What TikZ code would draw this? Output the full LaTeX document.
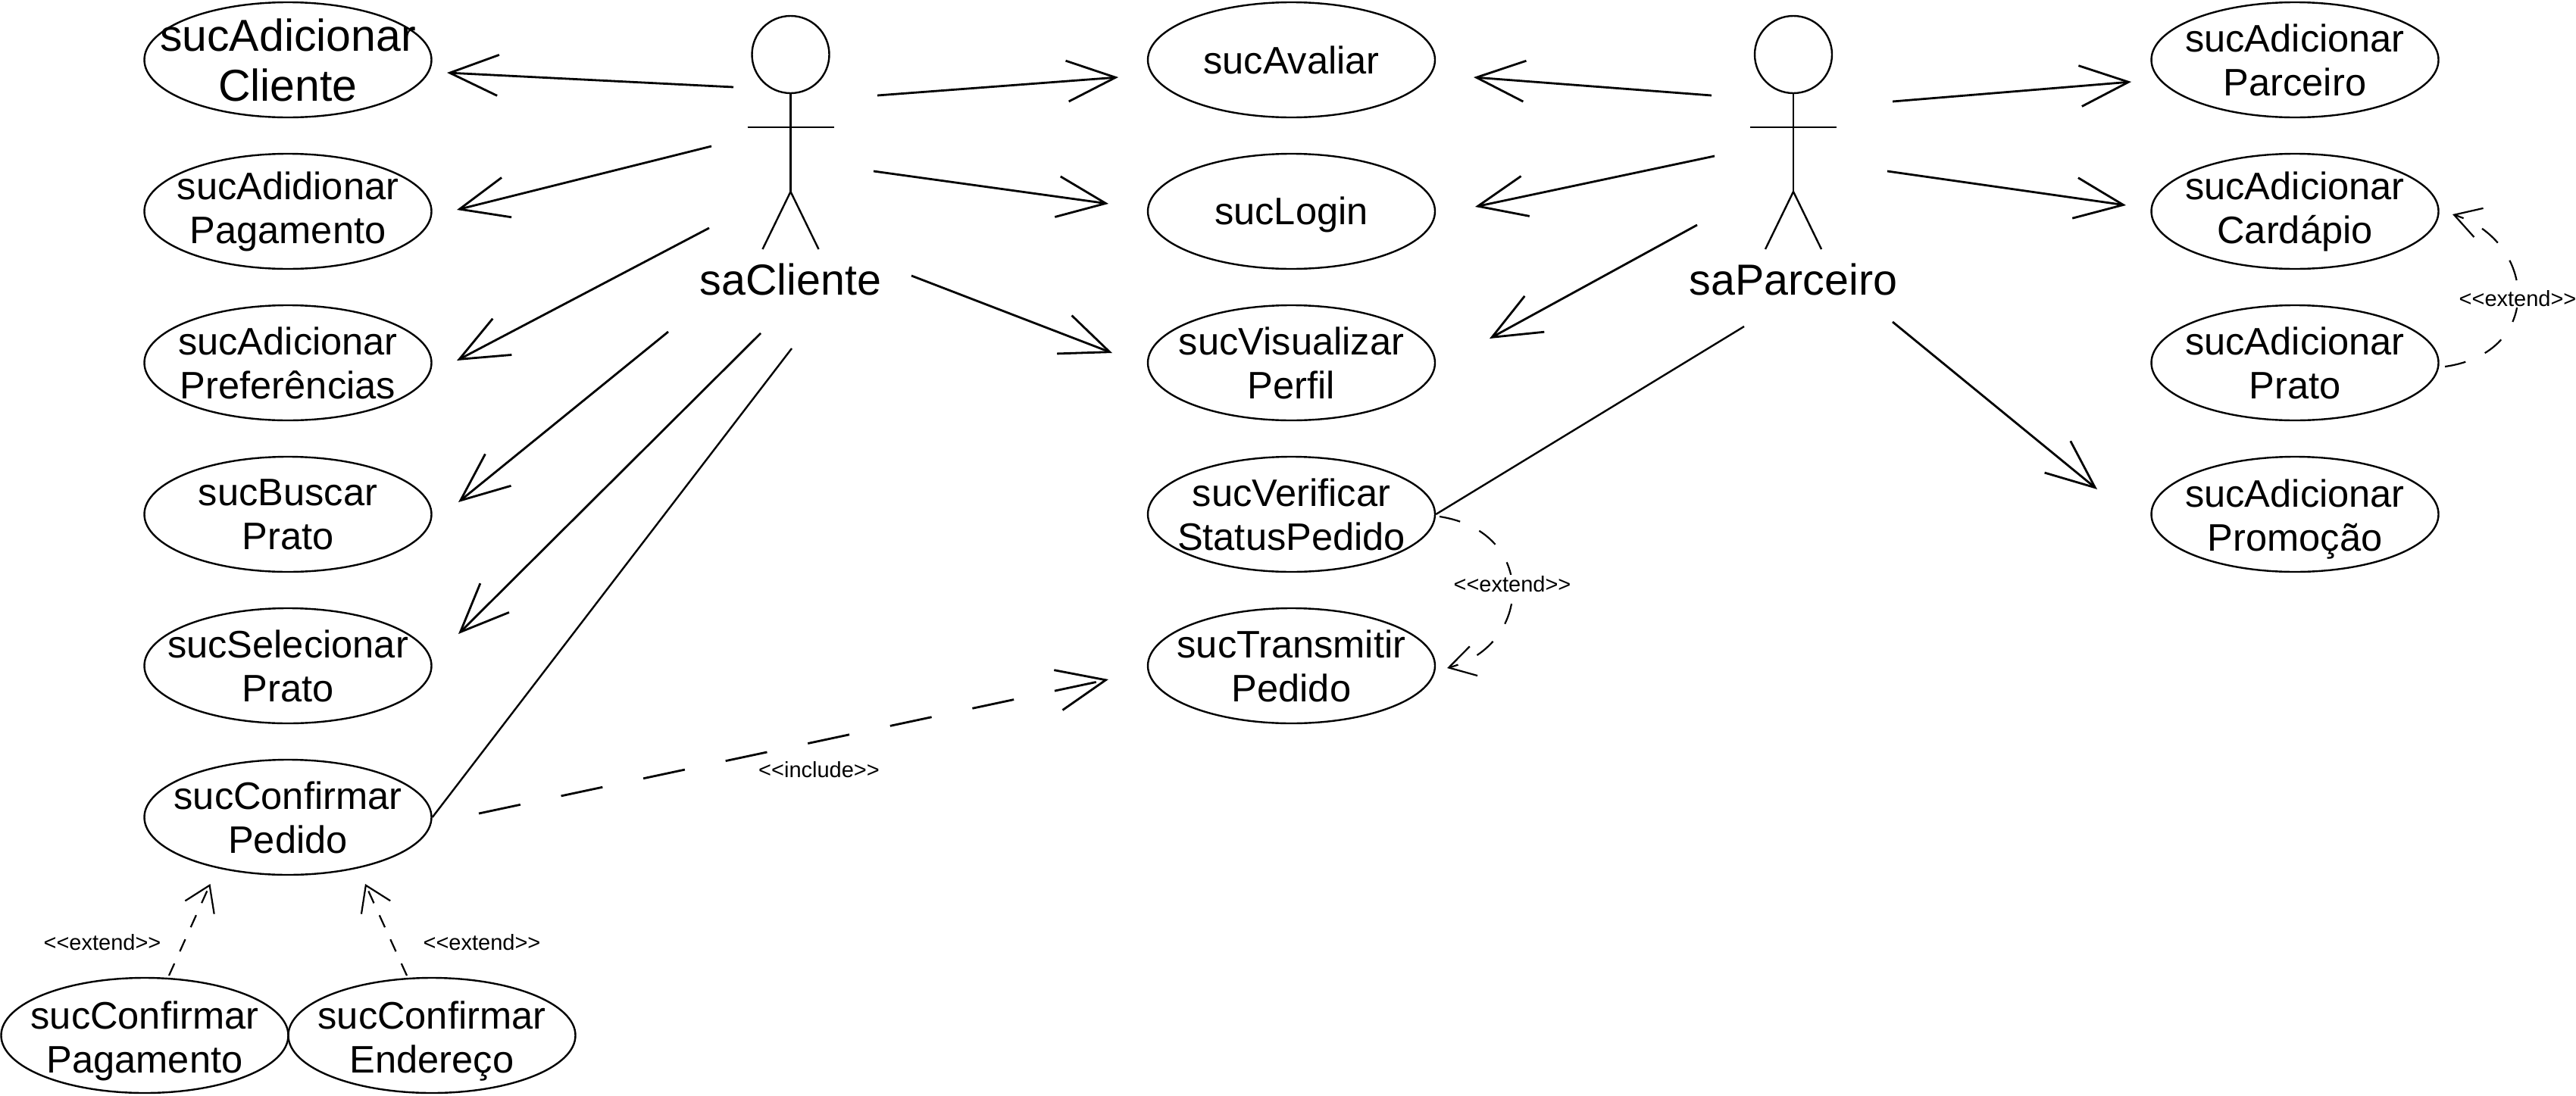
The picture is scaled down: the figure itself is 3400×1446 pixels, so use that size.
\documentclass[tikz,border=0pt]{standalone}
\usepackage{fontspec}
\setmainfont{Liberation Sans}
\usetikzlibrary{arrows.meta,shapes.geometric}
\newcommand\lla{<\kern0pt<}
\newcommand\gga{>\kern0pt>}
\newcommand\ucase[5][uctext]{%
  \node[ucshape] (#2) at (#3,#4) {};
  \node[#1] at (#2) {#5};}
\newcommand\actor[4]{%
  \node[headshape] (#1Head) at (#2,72) {};
  \coordinate (#1Hip) at (#2,253);
  \coordinate (#1ArmL) at (#2-57,168);
  \coordinate (#1ArmR) at (#2+57,168);
  \coordinate (#1LegL) at (#2-37,329);
  \coordinate (#1LegR) at (#2+37,329);
  \draw[body] (#1Head.south) -- (#1Hip);
  \draw[body] (#1ArmL) -- (#1ArmR);
  \draw[body] (#1LegL) -- (#1Hip) -- (#1LegR);
  \node[actorlabel] (#1) at (#2,#3) {#4};}
\tikzset{
  ucshape/.style={ellipse,draw=black,line width=1.2pt,minimum width=189.5pt,minimum height=76pt,inner sep=0pt},
  uctext/.style={font=\fontsize{25.3}{29}\selectfont,align=center,inner sep=0pt},
  ucbig/.style={font=\fontsize{29.5}{33}\selectfont,align=center,inner sep=0pt},
  headshape/.style={circle,draw=black,line width=1.2pt,minimum size=51pt,inner sep=0pt},
  body/.style={line width=1.2pt,draw=black},
  actorlabel/.style={font=\fontsize{28.7}{32}\selectfont,inner sep=0pt},
  small/.style={font=\fontsize{14.5}{16}\selectfont,inner sep=0.5pt},
  assoc/.style={line width=1.4pt,-{Straight Barb[length=32pt,width=27pt,line width=1.4pt]}},
  plain/.style={line width=1.2pt},
  incl/.style={line width=1.4pt,dash pattern=on 28pt off 27.5pt,-{Straight Barb[length=32pt,width=27pt,line width=1.4pt]}},
  ext/.style={line width=1.1pt,dash pattern=on 14pt off 14pt,-{Straight Barb[length=17pt,width=20pt,line width=1.1pt]}},
  extshort/.style={line width=1.1pt,dash pattern=on 8.75pt off 8.75pt,-{Straight Barb[length=16pt,width=21pt,line width=1.1pt]}},
}
\begin{document}
\begin{tikzpicture}[x=0.5pt,y=-0.5pt]
\useasboundingbox (0,0) rectangle (3400,1446);
% use cases
\ucase[ucbig]{ucAddCliente}{380}{79}{sucAdicionar\\Cliente}
\ucase{ucAddPagamento}{380}{279}{sucAdidionar\\Pagamento}
\ucase{ucAddPref}{380}{479}{sucAdicionar\\Preferências}
\ucase{ucBuscar}{380}{679}{sucBuscar\\Prato}
\ucase{ucSelecionar}{380}{879}{sucSelecionar\\Prato}
\ucase{ucConfPedido}{380}{1079}{sucConfirmar\\Pedido}
\ucase[uctext,yshift=-3.8pt]{ucConfPag}{191}{1367}{sucConfirmar\\Pagamento}
\ucase[uctext,yshift=-3.8pt]{ucConfEnd}{570}{1367}{sucConfirmar\\Endereço}
\ucase{ucAvaliar}{1704.5}{79}{sucAvaliar}
\ucase[uctext,yshift=-2.2pt]{ucLogin}{1704.5}{279}{sucLogin}
\ucase{ucPerfil}{1704.5}{479}{sucVisualizar\\Perfil}
\ucase{ucStatus}{1704.5}{679}{sucVerificar\\StatusPedido}
\ucase{ucTransmitir}{1704.5}{879}{sucTransmitir\\Pedido}
\ucase{ucAddParceiro}{3029}{79}{sucAdicionar\\Parceiro}
\ucase{ucAddCardapio}{3029}{279}{sucAdicionar\\Cardápio}
\ucase{ucAddPrato}{3029}{479}{sucAdicionar\\Prato}
\ucase[uctext,yshift=-3.2pt]{ucAddPromo}{3029}{679}{sucAdicionar\\Promoção}
% actors
\actor{saCliente}{1043.5}{369}{saCliente}
\actor{saParceiro}{2367}{369}{saParceiro}
% free ends
\coordinate (c1s) at (968,115);   \coordinate (c1e) at (590,96);
\coordinate (c2s) at (939,193);   \coordinate (c2e) at (603,277);
\coordinate (c3s) at (936,301);   \coordinate (c3e) at (603,476);
\coordinate (c4s) at (882,438);   \coordinate (c4e) at (605,663);
\coordinate (c5s) at (1004,440);  \coordinate (c5e) at (605,837);
\coordinate (c6s) at (1045,460);
\coordinate (c7s) at (1158,126);  \coordinate (c7e) at (1476,102);
\coordinate (c8s) at (1153,226);  \coordinate (c8e) at (1463,269);
\coordinate (c9s) at (1203,364);  \coordinate (c9e) at (1468,466);
\coordinate (p1s) at (2259,126);  \coordinate (p1e) at (1945,102);
\coordinate (p2s) at (2263,206);  \coordinate (p2e) at (1947,273);
\coordinate (p3s) at (2240,297);  \coordinate (p3e) at (1966,447);
\coordinate (p4s) at (2302,431);
\coordinate (p5s) at (2498,134);  \coordinate (p5e) at (2813,108);
\coordinate (p6s) at (2491,226);  \coordinate (p6e) at (2806,271);
\coordinate (p7s) at (2498,425);  \coordinate (p7e) at (2768,646);
\coordinate (is) at (632,1074);   \coordinate (ie) at (1463,897);
\coordinate (e1s) at (3227,484);  \coordinate (e1e) at (3237,283);
\coordinate (e2s) at (1900,682);  \coordinate (e2e) at (1910,882);
\coordinate (e3s) at (223,1288);  \coordinate (e3e) at (277.5,1167);
\coordinate (e4s) at (537,1288);  \coordinate (e4e) at (482,1167);
% associations
\draw[assoc] (c1s) -- (c1e);
\draw[assoc] (c2s) -- (c2e);
\draw[assoc] (c3s) -- (c3e);
\draw[assoc] (c4s) -- (c4e);
\draw[assoc] (c5s) -- (c5e);
\draw[plain] (c6s) -- (ucConfPedido.east);
\draw[assoc] (c7s) -- (c7e);
\draw[assoc] (c8s) -- (c8e);
\draw[assoc] (c9s) -- (c9e);
\draw[assoc] (p1s) -- (p1e);
\draw[assoc] (p2s) -- (p2e);
\draw[assoc] (p3s) -- (p3e);
\draw[plain] (p4s) -- (ucStatus.east);
\draw[assoc] (p5s) -- (p5e);
\draw[assoc] (p6s) -- (p6e);
\draw[assoc] (p7s) -- (p7e);
% include / extend
\draw[incl] (is) -- (ie);
\node[small] (lblInclude) at (1081,1016) {\lla include\gga};
\draw[ext] (e1s) .. controls (3360,465) and (3347,318) .. (e1e);
\node[small,fill=white] (lblExt1) at (3323,394) {\lla extend\gga};
\draw[ext] (e2s) .. controls (2030,702) and (2023,852) .. (e2e);
\node[small,fill=white] (lblExt2) at (1996,771) {\lla extend\gga};
\draw[extshort] (e3s) -- (e3e);
\node[small] (lblExt3) at (135,1244) {\lla extend\gga};
\draw[extshort] (e4s) -- (e4e);
\node[small] (lblExt4) at (636,1244) {\lla extend\gga};
\end{tikzpicture}
\end{document}
